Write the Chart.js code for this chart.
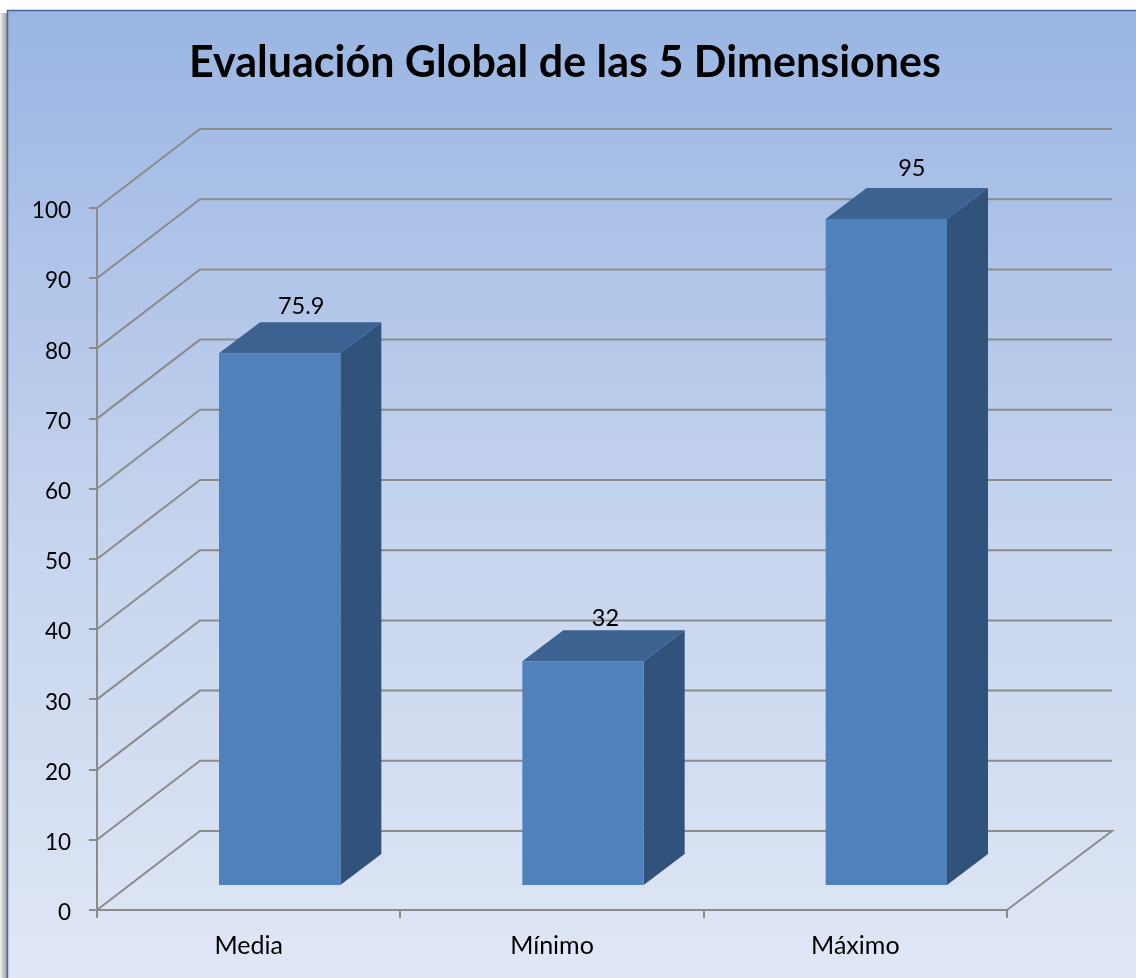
<!DOCTYPE html>
<html lang="es">
<head>
<meta charset="utf-8">
<title>Evaluación Global de las 5 Dimensiones</title>
<script src="https://cdn.jsdelivr.net/npm/chart.js@4"></script>
<style>
html,body{margin:0;padding:0;background:#fff;overflow:hidden}
canvas{display:block}
</style>
</head>
<body>
<canvas id="c" width="1136" height="978"></canvas>
<script>
const categories = ["Media", "Mínimo", "Máximo"];
const values = [75.9, 32, 95];
const valueLabels = ["75.9", "32", "95"];
const yTicks = [0, 10, 20, 30, 40, 50, 60, 70, 80, 90, 100];
const chartTitle = "Evaluación Global de las 5 Dimensiones";

const FONT = "Lato, Carlito, sans-serif";
const LINE = "#8b8b8b";
const FRONT = "#4f81bd", SIDE = "#31527a", TOP = "#3c6291";

// projection of the 3D box
const WALL = {dxL: 103, dxR: 105, dy: -79};
const BAR_SHIFT = {x: 31, y: -24};
const BAR_DEPTH = {x: 41, y: -31};
const LABEL_SHIFT = [{x: 21.5, y: -71}, {x: 22.5, y: -67}, {x: 25.5, y: -75}];

const panel = {
  id: "panel",
  beforeDraw(chart) {
    const {ctx, width, height} = chart;
    ctx.save();
    ctx.fillStyle = "#fff";
    ctx.fillRect(0, 0, width, height);
    const s = ctx.createLinearGradient(0, 0, 8, 0);
    s.addColorStop(0, "#f2f2f2");
    s.addColorStop(0.6, "#b5b5b5");
    s.addColorStop(1, "#8f8f8f");
    ctx.fillStyle = s;
    ctx.fillRect(0, 13, 8, height - 13);
    const g = ctx.createLinearGradient(0, 10, 0, height);
    g.addColorStop(0, "#9ab5e3");
    g.addColorStop(0.5, "#c3d2ed");
    g.addColorStop(1, "#e0e7f5");
    ctx.fillStyle = g;
    ctx.fillRect(7.5, 10.5, width, height);
    ctx.strokeStyle = "#41689c";
    ctx.lineWidth = 1.5;
    ctx.strokeRect(7.5, 10.5, width + 10, height + 10);
    ctx.restore();
  },
  afterDraw(chart) {
    const {ctx} = chart;
    ctx.save();
    ctx.fillStyle = "#000";
    ctx.font = "bold 43px " + FONT;
    ctx.textAlign = "center";
    ctx.textBaseline = "alphabetic";
    ctx.fillText(chartTitle, 565, 77);
    ctx.restore();
  }
};

const box3d = {
  id: "box3d",
  beforeDatasetsDraw(chart) {
    const {ctx, scales: {x, y}} = chart;
    ctx.save();
    ctx.strokeStyle = LINE;
    ctx.lineWidth = 2;
    yTicks.forEach(v => {
      const py = y.getPixelForValue(v);
      ctx.beginPath();
      ctx.moveTo(x.left, py);
      ctx.lineTo(x.left + WALL.dxL, py + WALL.dy);
      ctx.lineTo(x.right + WALL.dxR, py + WALL.dy);
      if (v === 0) ctx.lineTo(x.right, py);
      ctx.stroke();
    });
    chart.getDatasetMeta(0).data.forEach(el => {
      const p = el.getProps(["x", "y", "base", "width"], true);
      const l = p.x - p.width / 2 + BAR_SHIFT.x, r = p.x + p.width / 2 + BAR_SHIFT.x;
      const t = p.y + BAR_SHIFT.y, b = p.base + BAR_SHIFT.y;
      ctx.fillStyle = SIDE;
      ctx.beginPath();
      ctx.moveTo(r, t);
      ctx.lineTo(r + BAR_DEPTH.x, t + BAR_DEPTH.y);
      ctx.lineTo(r + BAR_DEPTH.x, b + BAR_DEPTH.y);
      ctx.lineTo(r, b);
      ctx.closePath();
      ctx.fill();
      ctx.fillStyle = TOP;
      ctx.beginPath();
      ctx.moveTo(l, t);
      ctx.lineTo(l + BAR_DEPTH.x, t + BAR_DEPTH.y);
      ctx.lineTo(r + BAR_DEPTH.x, t + BAR_DEPTH.y);
      ctx.lineTo(r, t);
      ctx.closePath();
      ctx.fill();
    });
    ctx.restore();
  },
  beforeDatasetDraw(chart) {
    chart.ctx.save();
    chart.ctx.translate(BAR_SHIFT.x, BAR_SHIFT.y);
  },
  afterDatasetDraw(chart) {
    chart.ctx.restore();
  },
  afterDatasetsDraw(chart) {
    const {ctx} = chart;
    ctx.save();
    ctx.fillStyle = "#000";
    ctx.font = "23.5px " + FONT;
    ctx.textAlign = "center";
    ctx.textBaseline = "middle";
    chart.getDatasetMeta(0).data.forEach((el, i) => {
      const p = el.getProps(["x", "y"], true);
      ctx.fillText(valueLabels[i], p.x + BAR_SHIFT.x + LABEL_SHIFT[i].x, p.y + LABEL_SHIFT[i].y);
    });
    ctx.restore();
  }
};

new Chart(document.getElementById("c"), {
  type: "bar",
  data: {
    labels: categories,
    datasets: [{
      data: values,
      backgroundColor: FRONT,
      borderWidth: 0,
      categoryPercentage: 1,
      barPercentage: 0.4,
      clip: false
    }]
  },
  options: {
    responsive: false,
    animation: false,
    devicePixelRatio: 1,
    layout: {padding: {left: 0, right: 129, top: 208, bottom: 0}},
    plugins: {
      legend: {display: false},
      tooltip: {enabled: false},
      title: {display: false}
    },
    scales: {
      x: {
        afterFit(s) { s.height = 68; },
        grid: {display: true, drawOnChartArea: false, drawTicks: true, tickLength: 8, color: LINE, lineWidth: 2},
        border: {display: true, color: LINE, width: 2},
        ticks: {color: "#000", font: {family: FONT, size: 25}, padding: 13, maxRotation: 0}
      },
      y: {
        min: 0,
        max: 100,
        afterFit(s) { s.width = 97; },
        afterBuildTicks(s) { s.ticks = yTicks.map(v => ({value: v})); },
        grid: {display: true, drawOnChartArea: false, drawTicks: true, tickLength: 8, color: LINE, lineWidth: 2},
        border: {display: true, color: LINE, width: 2},
        ticks: {color: "#000", font: {family: FONT, size: 22.5}, padding: 18, labelOffset: 3}
      }
    }
  },
  plugins: [panel, box3d]
});
</script>
</body>
</html>
